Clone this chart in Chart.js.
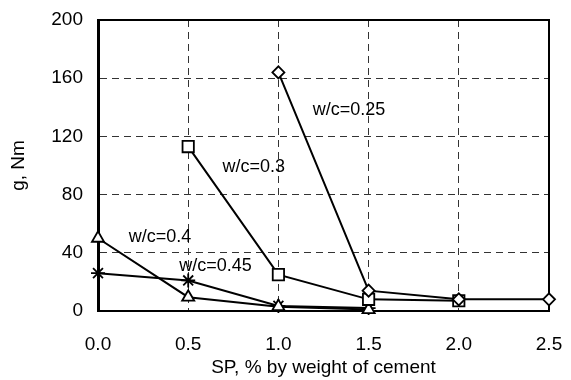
<!DOCTYPE html>
<html>
<head>
<meta charset="utf-8">
<script src="https://cdn.jsdelivr.net/npm/chart.js@4/dist/chart.umd.min.js"></script>
<style>
  html, body { margin: 0; padding: 0; background: #fff; }
  #wrap { width: 571px; height: 380px; }
</style>
</head>
<body>
<div id="wrap"><canvas id="chart"></canvas></div>
<script>
// SP dosage, % by weight of cement
const spLevels = [0.0, 0.5, 1.0, 1.5, 2.0, 2.5];

// g (Nm) per w/c ratio, null where not measured
const wc025 = [null, null, 164, 14, 8, 8];
const wc030 = [null, 113, 25, 8, 7, null];
const wc040 = [50, 9.5, 3, 1, null, null];
const wc045 = [26, 21, 3.5, 2, null, null];

const yTicks = [0, 40, 80, 120, 160, 200];

// label text and where it sits (data coords, text left / middle)
const seriesLabels = ['w/c=0.25', 'w/c=0.3', 'w/c=0.4', 'w/c=0.45'];
const labelX = [1.19, 0.69, 0.17, 0.45];
const labelY = [138, 99, 51, 31];

const FONT = "'Liberation Sans', Arial, sans-serif";

function toPoints(values) {
  return spLevels
    .map((x, i) => ({ x: x, y: values[i] }))
    .filter(p => p.y !== null);
}

function series(values, style, radius) {
  return {
    data: toPoints(values),
    borderColor: '#000',
    borderWidth: 2,
    pointStyle: style,
    pointRadius: radius,
    pointBorderWidth: 1.8,
    pointBackgroundColor: '#fff',
    pointBorderColor: '#000',
    fill: false,
    clip: false,
    tension: 0
  };
}

// frame on top/right and the w/c labels
const extras = {
  id: 'extras',
  beforeDatasetsDraw(chart) {
    const { ctx, chartArea: a } = chart;
    ctx.save();
    ctx.strokeStyle = '#000';
    ctx.lineWidth = 2;
    ctx.beginPath();
    ctx.moveTo(a.left, a.top);
    ctx.lineTo(a.right, a.top);
    ctx.lineTo(a.right, a.bottom);
    ctx.stroke();
    ctx.restore();
  },
  afterDatasetsDraw(chart) {
    const { ctx, scales } = chart;
    ctx.save();
    ctx.fillStyle = '#000';
    ctx.font = '18px ' + FONT;
    ctx.textAlign = 'left';
    ctx.textBaseline = 'middle';
    seriesLabels.forEach((t, i) => {
      ctx.fillText(t, scales.x.getPixelForValue(labelX[i]), scales.y.getPixelForValue(labelY[i]));
    });
    ctx.restore();
  }
};

const ctx = document.getElementById('chart').getContext('2d');
new Chart(ctx, {
  type: 'line',
  data: {
    datasets: [
      series(wc025, 'rectRot', 6),
      series(wc030, 'rect', 8),
      series(wc040, 'triangle', 7),
      series(wc045, 'star', 7)
    ]
  },
  options: {
    responsive: true,
    maintainAspectRatio: false,
    animation: false,
    layout: { padding: { top: 20, right: 22, left: 0, bottom: 0 } },
    plugins: {
      legend: { display: false },
      tooltip: { enabled: false }
    },
    scales: {
      x: {
        type: 'linear',
        min: 0,
        max: 2.5,
        afterFit: s => { s.height = 69; s.paddingLeft = 0; s.paddingRight = 0; },
        afterBuildTicks: s => { s.ticks = spLevels.map(v => ({ value: v })); },
        ticks: {
          color: '#000',
          font: { family: FONT, size: 19 },
          padding: 22,
          callback: v => v.toFixed(1)
        },
        grid: { color: '#333', lineWidth: 1, drawTicks: false },
        border: { display: true, color: '#000', width: 2, dash: [7, 5] },
        title: {
          display: true,
          text: 'SP, % by weight of cement',
          color: '#000',
          font: { family: FONT, size: 19 },
          padding: { top: 0, bottom: 1 }
        }
      },
      y: {
        min: 0,
        max: 200,
        afterFit: s => { s.width = 98; s.paddingTop = 0; s.paddingBottom = 0; },
        afterBuildTicks: s => { s.ticks = yTicks.map(v => ({ value: v })); },
        ticks: {
          color: '#000',
          font: { family: FONT, size: 19 },
          padding: 15
        },
        grid: { color: '#333', lineWidth: 1, drawTicks: false },
        border: { display: true, color: '#000', width: 3, dash: [7, 5] },
        title: {
          display: true,
          text: 'g, Nm',
          color: '#000',
          font: { family: FONT, size: 19 },
          padding: { top: 7, bottom: 0 }
        }
      }
    }
  },
  plugins: [extras]
});
</script>
</body>
</html>
